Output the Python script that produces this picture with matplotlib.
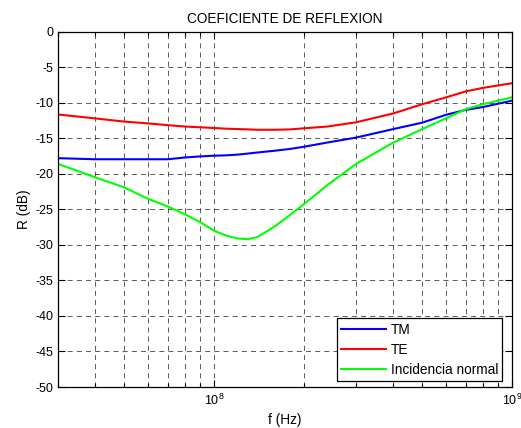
import matplotlib
matplotlib.use("Agg")
import matplotlib.pyplot as plt
from matplotlib.ticker import LogLocator, NullFormatter, MultipleLocator

freq = [3e7, 4e7, 5e7, 6e7, 7e7, 8e7, 9e7, 1e8, 1.1e8, 1.2e8, 1.3e8, 1.4e8,
        1.6e8, 1.8e8, 2e8, 2.4e8, 3e8, 4e8, 5e8, 6e8, 7e8, 8e8, 1e9]
r_tm = [-17.8, -17.95, -17.95, -17.95, -17.95, -17.7, -17.55, -17.45, -17.4, -17.3,
        -17.15, -17.0, -16.75, -16.5, -16.2, -15.6, -14.9, -13.7, -12.8, -11.7,
        -11.0, -10.6, -9.7]
r_te = [-11.65, -12.2, -12.65, -12.9, -13.15, -13.35, -13.45, -13.55, -13.65, -13.7,
        -13.75, -13.8, -13.8, -13.75, -13.6, -13.35, -12.75, -11.5, -10.2, -9.25,
        -8.4, -7.9, -7.25]
r_norm = [-18.6, -20.5, -21.9, -23.5, -24.6, -25.7, -26.8, -28.0, -28.7, -29.1,
          -29.2, -28.9, -27.4, -25.8, -24.3, -21.6, -18.6, -15.6, -13.7, -12.2,
          -10.9, -10.2, -9.25]
labels = ["TM", "TE", "Incidencia normal"]

plt.rcParams['font.family'] = ['Liberation Sans', 'DejaVu Sans']
plt.rcParams['font.size'] = 9
plt.rcParams['axes.unicode_minus'] = False

fig = plt.figure(figsize=(5.21, 4.28), dpi=100)
ax = fig.add_axes([58/521, 1-387/428, (512-58)/521, (387-31.7)/428])

ax.semilogx(freq, r_tm, color='#0000ff', lw=1.5, label=labels[0])
ax.semilogx(freq, r_te, color='#ff0000', lw=1.5, label=labels[1])
ax.semilogx(freq, r_norm, color='#00ff00', lw=1.5, label=labels[2])

ax.set_xlim(3e7, 1e9)
ax.set_ylim(-50, 0)
ax.yaxis.set_major_locator(MultipleLocator(5))
ax.xaxis.set_major_locator(LogLocator(base=10))
ax.xaxis.set_minor_locator(LogLocator(base=10, subs=range(2, 10)))
ax.xaxis.set_minor_formatter(NullFormatter())

gkw = dict(color='black', linestyle=(0, (6, 5)), linewidth=0.6, alpha=0.75)
ax.grid(True, which='major', **gkw)
ax.grid(True, which='minor', axis='x', **gkw)

ax.tick_params(which='both', direction='in', top=True, right=True, colors='black',
               labelsize=9)
ax.tick_params(which='major', length=5, width=0.8)
ax.tick_params(which='minor', length=3, width=0.8)
ax.tick_params(axis='x', pad=4)
for s in ax.spines.values():
    s.set_linewidth(0.9)

ax.set_title("COEFICIENTE DE REFLEXION", fontsize=9.8, pad=6)
ax.set_xlabel("f (Hz)", fontsize=9.8, labelpad=4)
ax.set_ylabel("R (dB)", fontsize=9.8, labelpad=3)

leg = ax.legend(loc='lower right', fancybox=False, edgecolor='black', framealpha=1,
                handlelength=3.3, bbox_to_anchor=(0.992, 0.0), borderaxespad=0.45,
                fontsize=9.8, borderpad=0.3, labelspacing=0.45, handletextpad=0.35)
leg.get_frame().set_linewidth(0.9)

fig.savefig("out.png", dpi=100)
